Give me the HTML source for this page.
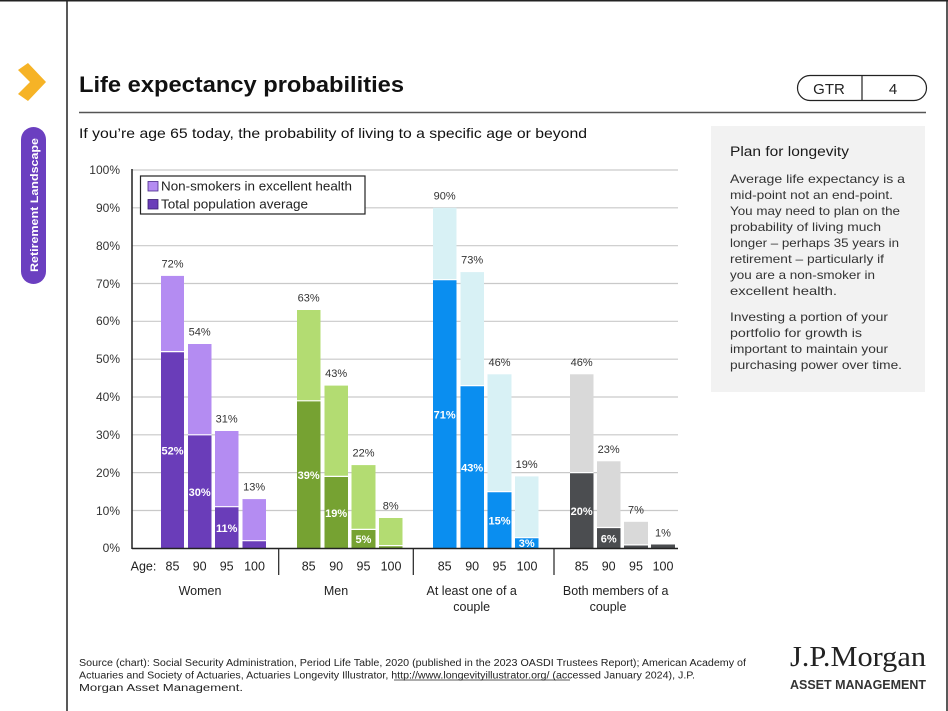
<!DOCTYPE html>
<html><head><meta charset="utf-8"><style>
html,body{margin:0;padding:0;background:#fff;}
svg{display:block;}
text{font-family:"Liberation Sans",sans-serif;}
</style></head><body>
<svg width="948" height="711" viewBox="0 0 948 711" xmlns="http://www.w3.org/2000/svg">
<rect x="0" y="0" width="948" height="711" fill="#fff"/>
<!-- borders -->
<line x1="0" y1="0.75" x2="948" y2="0.75" stroke="#222" stroke-width="1.5"/>
<line x1="67" y1="0" x2="67" y2="711" stroke="#222" stroke-width="1.5"/>
<line x1="947" y1="0" x2="947" y2="711" stroke="#222" stroke-width="1.5"/>

<!-- sidebar -->
<polygon points="18,70 28,63 46,82 28,101 18,94 30,82" fill="#f6b326"/>
<rect x="21" y="127" width="25" height="157" rx="12.5" fill="#6b3fc0"/>
<text transform="translate(38,205) rotate(-90)" text-anchor="middle" font-size="11" font-weight="bold" fill="#fff" textLength="134" lengthAdjust="spacingAndGlyphs">Retirement Landscape</text>

<!-- title -->
<text x="79" y="92" font-size="22" font-weight="bold" fill="#111" textLength="325" lengthAdjust="spacingAndGlyphs">Life expectancy  probabilities</text>
<rect x="797.5" y="75.5" width="129" height="25" rx="12.5" fill="none" stroke="#222" stroke-width="1.2"/>
<line x1="862" y1="75.5" x2="862" y2="100.5" stroke="#222" stroke-width="1.2"/>
<text x="829" y="94" font-size="15" text-anchor="middle" fill="#222">GTR</text>
<text x="893" y="94" font-size="15" text-anchor="middle" fill="#222">4</text>
<line x1="79" y1="112.5" x2="926" y2="112.5" stroke="#555" stroke-width="1.5"/>
<text x="79" y="138" font-size="14" fill="#111" textLength="508" lengthAdjust="spacingAndGlyphs">If you’re age 65 today, the probability of living to a specific age or beyond</text>

<!-- side box -->
<rect x="711" y="126" width="214" height="266" fill="#f2f2f2"/>
<text x="730" y="156" font-size="13.5" fill="#1a1a1a" textLength="119" lengthAdjust="spacingAndGlyphs">Plan for longevity</text>
<g font-size="12" fill="#333">
<text x="730" y="183" textLength="175" lengthAdjust="spacingAndGlyphs">Average life expectancy is a</text>
<text x="730" y="199" textLength="163" lengthAdjust="spacingAndGlyphs">mid-point not an end-point.</text>
<text x="730" y="215" textLength="170" lengthAdjust="spacingAndGlyphs">You may need to plan on the</text>
<text x="730" y="231" textLength="151" lengthAdjust="spacingAndGlyphs">probability of living much</text>
<text x="730" y="247" textLength="169" lengthAdjust="spacingAndGlyphs">longer – perhaps 35 years in</text>
<text x="730" y="263" textLength="154" lengthAdjust="spacingAndGlyphs">retirement – particularly if</text>
<text x="730" y="279" textLength="145" lengthAdjust="spacingAndGlyphs">you are a non-smoker in</text>
<text x="730" y="295" textLength="107" lengthAdjust="spacingAndGlyphs">excellent health.</text>
<text x="730" y="321" textLength="158" lengthAdjust="spacingAndGlyphs">Investing a portion of your</text>
<text x="730" y="337" textLength="132" lengthAdjust="spacingAndGlyphs">portfolio for growth is</text>
<text x="730" y="353" textLength="158" lengthAdjust="spacingAndGlyphs">important to maintain your</text>
<text x="730" y="369" textLength="172" lengthAdjust="spacingAndGlyphs">purchasing power over time.</text>
</g>

<!-- gridlines -->
<g stroke="#c9c9c9" stroke-width="1.2">
<line x1="132" y1="170" x2="678" y2="170"/>
<line x1="132" y1="207.8" x2="678" y2="207.8"/>
<line x1="132" y1="245.7" x2="678" y2="245.7"/>
<line x1="132" y1="283.5" x2="678" y2="283.5"/>
<line x1="132" y1="321.3" x2="678" y2="321.3"/>
<line x1="132" y1="359.2" x2="678" y2="359.2"/>
<line x1="132" y1="397" x2="678" y2="397"/>
<line x1="132" y1="434.8" x2="678" y2="434.8"/>
<line x1="132" y1="472.6" x2="678" y2="472.6"/>
<line x1="132" y1="510.5" x2="678" y2="510.5"/>
</g>
<g font-size="12" fill="#333" text-anchor="end">
<text x="120" y="174">100%</text>
<text x="120" y="212">90%</text>
<text x="120" y="250">80%</text>
<text x="120" y="288">70%</text>
<text x="120" y="325">60%</text>
<text x="120" y="363">50%</text>
<text x="120" y="401">40%</text>
<text x="120" y="439">30%</text>
<text x="120" y="477">20%</text>
<text x="120" y="515">10%</text>
<text x="120" y="552">0%</text>
</g>

<!-- bars: Women -->
<g>
<rect x="161" y="275.9" width="23" height="272.4" fill="#b48cf2"/>
<rect x="161" y="351.6" width="23" height="196.7" fill="#6a3db9"/>
<rect x="188" y="344.0" width="23.5" height="204.3" fill="#b48cf2"/>
<rect x="188" y="434.8" width="23.5" height="113.5" fill="#6a3db9"/>
<rect x="215" y="431.0" width="23.5" height="117.3" fill="#b48cf2"/>
<rect x="215" y="506.7" width="23.5" height="41.6" fill="#6a3db9"/>
<rect x="242.5" y="499.1" width="23.5" height="49.2" fill="#b48cf2"/>
<rect x="242.5" y="540.7" width="23.5" height="7.6" fill="#6a3db9"/>
<!-- Men -->
<rect x="297" y="310.0" width="23.5" height="238.3" fill="#b3dc72"/>
<rect x="297" y="400.8" width="23.5" height="147.5" fill="#76a232"/>
<rect x="324.5" y="385.6" width="23.5" height="162.7" fill="#b3dc72"/>
<rect x="324.5" y="476.4" width="23.5" height="71.9" fill="#76a232"/>
<rect x="351.5" y="465.1" width="24" height="83.2" fill="#b3dc72"/>
<rect x="351.5" y="529.4" width="24" height="18.9" fill="#76a232"/>
<rect x="379" y="518.0" width="23.5" height="30.3" fill="#b3dc72"/>
<rect x="379" y="545.6" width="23.5" height="2.7" fill="#76a232"/>
<!-- Couple -->
<rect x="433" y="207.8" width="23.5" height="340.5" fill="#d8f1f5"/>
<rect x="433" y="279.7" width="23.5" height="268.6" fill="#0a8ef0"/>
<rect x="460.5" y="272.1" width="23.5" height="276.2" fill="#d8f1f5"/>
<rect x="460.5" y="385.6" width="23.5" height="162.7" fill="#0a8ef0"/>
<rect x="487.5" y="374.3" width="24" height="174" fill="#d8f1f5"/>
<rect x="487.5" y="491.6" width="24" height="56.7" fill="#0a8ef0"/>
<rect x="515" y="476.4" width="23.5" height="71.9" fill="#d8f1f5"/>
<rect x="515" y="537.7" width="23.5" height="10.6" fill="#0a8ef0"/>
<!-- Both -->
<rect x="570" y="374.3" width="23.5" height="174" fill="#d9d9d9"/>
<rect x="570" y="472.6" width="23.5" height="75.7" fill="#4b4d50"/>
<rect x="597" y="461.3" width="23.5" height="87" fill="#d9d9d9"/>
<rect x="597" y="527.5" width="23.5" height="20.8" fill="#4b4d50"/>
<rect x="624" y="521.8" width="24" height="26.5" fill="#d9d9d9"/>
<rect x="624" y="544.9" width="24" height="3.4" fill="#4b4d50"/>
<rect x="651" y="544.5" width="24" height="3.8" fill="#4b4d50"/>
</g>
<!-- white separators -->
<g stroke="#fff" stroke-width="1.2">
<line x1="161" y1="351.6" x2="184" y2="351.6"/>
<line x1="188" y1="434.8" x2="211.5" y2="434.8"/>
<line x1="215" y1="506.7" x2="238.5" y2="506.7"/>
<line x1="242.5" y1="540.7" x2="266" y2="540.7"/>
<line x1="297" y1="400.8" x2="320.5" y2="400.8"/>
<line x1="324.5" y1="476.4" x2="348" y2="476.4"/>
<line x1="351.5" y1="529.4" x2="375.5" y2="529.4"/>
<line x1="379" y1="545.6" x2="402.5" y2="545.6"/>
<line x1="433" y1="279.7" x2="456.5" y2="279.7"/>
<line x1="460.5" y1="385.6" x2="484" y2="385.6"/>
<line x1="487.5" y1="491.6" x2="511.5" y2="491.6"/>
<line x1="515" y1="537.7" x2="538.5" y2="537.7"/>
<line x1="570" y1="472.6" x2="593.5" y2="472.6"/>
<line x1="597" y1="527.5" x2="620.5" y2="527.5"/>
<line x1="624" y1="544.9" x2="648" y2="544.9"/>
</g>

<!-- top labels -->
<g font-size="11" fill="#333" text-anchor="middle">
<text x="172.5" y="267.4">72%</text>
<text x="199.7" y="335.5">54%</text>
<text x="226.7" y="422.5">31%</text>
<text x="254.2" y="490.6">13%</text>
<text x="308.7" y="301.5">63%</text>
<text x="336.2" y="377.1">43%</text>
<text x="363.5" y="456.6">22%</text>
<text x="390.7" y="509.5">8%</text>
<text x="444.7" y="199.3">90%</text>
<text x="472.2" y="263.6">73%</text>
<text x="499.5" y="365.8">46%</text>
<text x="526.7" y="467.9">19%</text>
<text x="581.7" y="365.8">46%</text>
<text x="608.7" y="452.8">23%</text>
<text x="636" y="513.3">7%</text>
<text x="663" y="536.5">1%</text>
</g>
<!-- inner labels -->
<g font-size="11" font-weight="bold" fill="#fff" text-anchor="middle">
<text x="172.5" y="454.5">52%</text>
<text x="199.7" y="496">30%</text>
<text x="226.7" y="532">11%</text>
<text x="308.7" y="479">39%</text>
<text x="336.2" y="517">19%</text>
<text x="363.5" y="543">5%</text>
<text x="444.7" y="418.5">71%</text>
<text x="472.2" y="471.5">43%</text>
<text x="499.5" y="524.5">15%</text>
<text x="526.7" y="547">3%</text>
<text x="581.7" y="515">20%</text>
<text x="608.7" y="542.5">6%</text>
</g>

<!-- axes -->
<line x1="132" y1="169" x2="132" y2="549" stroke="#222" stroke-width="1.5"/>
<line x1="132" y1="548.5" x2="678" y2="548.5" stroke="#222" stroke-width="1.5"/>
<g stroke="#222" stroke-width="1.2">
<line x1="278.7" y1="548" x2="278.7" y2="575"/>
<line x1="413.3" y1="548" x2="413.3" y2="575"/>
<line x1="554" y1="548" x2="554" y2="575"/>
</g>

<!-- x labels -->
<g font-size="12.5" fill="#222" text-anchor="middle">
<text x="143.5" y="570.5">Age:</text>
<text x="172.5" y="570.5">85</text>
<text x="199.7" y="570.5">90</text>
<text x="226.7" y="570.5">95</text>
<text x="254.5" y="570.5">100</text>
<text x="308.7" y="570.5">85</text>
<text x="336.2" y="570.5">90</text>
<text x="363.5" y="570.5">95</text>
<text x="391" y="570.5">100</text>
<text x="444.7" y="570.5">85</text>
<text x="472.2" y="570.5">90</text>
<text x="499.5" y="570.5">95</text>
<text x="527" y="570.5">100</text>
<text x="581.7" y="570.5">85</text>
<text x="608.7" y="570.5">90</text>
<text x="636" y="570.5">95</text>
<text x="663" y="570.5">100</text>
<text x="200" y="595">Women</text>
<text x="336" y="595">Men</text>
<text x="471.7" y="595">At least one of a</text>
<text x="471.7" y="611">couple</text>
<text x="615.7" y="595">Both members of a</text>
<text x="608" y="611">couple</text>
</g>

<!-- legend -->
<rect x="140.5" y="176" width="224.5" height="38" fill="#fff" stroke="#222" stroke-width="1.2"/>
<rect x="148" y="181.5" width="10" height="9.5" fill="#b48cf2" stroke="#4a2a8a" stroke-width="0.8"/>
<rect x="148" y="199.5" width="10" height="9.5" fill="#6a3db9" stroke="#3a1f70" stroke-width="0.8"/>
<text x="161" y="190.5" font-size="12.5" fill="#222" textLength="191" lengthAdjust="spacingAndGlyphs">Non-smokers  in  excellent  health</text>
<text x="161" y="208.5" font-size="12.5" fill="#222" textLength="147" lengthAdjust="spacingAndGlyphs">Total  population  average</text>

<!-- footer -->
<g font-size="10" fill="#222">
<text x="79" y="666" textLength="667" lengthAdjust="spacingAndGlyphs">Source (chart): Social Security Administration, Period Life Table, 2020 (published in the 2023 OASDI Trustees Report); American Academy of</text>
<text x="79" y="678.5" textLength="616" lengthAdjust="spacingAndGlyphs">Actuaries and Society of Actuaries, Actuaries Longevity Illustrator, http://www.longevityillustrator.org/ (accessed January 2024), J.P.</text>
<text x="79" y="691" textLength="164" lengthAdjust="spacingAndGlyphs">Morgan Asset Management.</text>
</g>
<line x1="394" y1="680" x2="570" y2="680" stroke="#222" stroke-width="0.8"/>

<!-- logo -->
<text x="790" y="666" style="font-family:'Liberation Serif',serif;" font-size="28" fill="#222" textLength="136" lengthAdjust="spacingAndGlyphs">J.P.Morgan</text>
<text x="790" y="689" font-size="12.5" fill="#333" style="font-weight:600;" textLength="136" lengthAdjust="spacingAndGlyphs">ASSET MANAGEMENT</text>
</svg>
</body></html>
